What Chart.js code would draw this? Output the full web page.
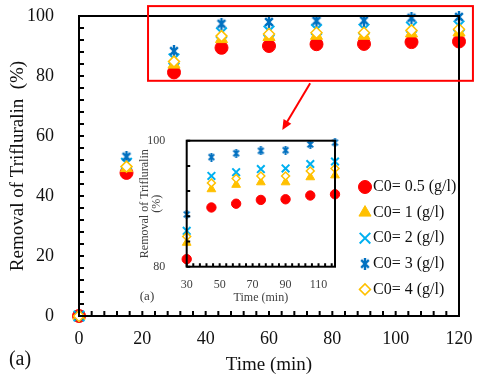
<!DOCTYPE html>
<html>
<head>
<meta charset="utf-8">
<script src="https://cdn.jsdelivr.net/npm/chart.js@4/dist/chart.umd.min.js"></script>
<style>
  body { margin: 0; background: #fff; }
  #wrap { position: relative; width: 480px; height: 380px; }
  #main { position: absolute; left: 0; top: 0; }
  #inset { position: absolute; left: 120px; top: 128px; }
</style>
</head>
<body>
<div id="wrap">
  <canvas id="main" width="480" height="380"></canvas>
  <canvas id="inset" width="225" height="180"></canvas>
</div>
<script>
const times = [0, 15, 30, 45, 60, 75, 90, 105, 120];
const c05 = [0, 47.7, 81.2, 89.4, 90.0, 90.6, 90.7, 91.3, 91.5];
const c1 = [0, 49.3, 83.8, 92.3, 93.0, 93.4, 93.4, 94.2, 94.5];
const c2 = [0, 50.9, 85.7, 94.4, 95.0, 95.5, 95.6, 96.3, 96.7];
const c3 = [0, 53.1, 88.3, 97.4, 98.0, 98.4, 98.5, 99.4, 99.7];
const c4 = [0, 49.8, 84.8, 93.3, 94.0, 94.4, 94.4, 95.2, 95.6];
const seriesLabels = ['C0= 0.5 (g/l)', 'C0= 1 (g/l)', 'C0= 2 (g/l)', 'C0= 3 (g/l)', 'C0= 4 (g/l)'];

// highlight box and arrow on the main chart, in data units
const boxX = [21.8, 124.4];
const boxY = [78.4, 103.3];
const arrowFrom = [73, 77.6];
const arrowTo = [64.2, 62];

const serif = 'Liberation Serif';

function starMarker(size, color) {
  const c = document.createElement('canvas');
  c.width = c.height = size;
  const g = c.getContext('2d');
  g.strokeStyle = color;
  g.lineWidth = Math.max(2, size / 5);
  const m = size * 0.18, s = size - m;
  g.beginPath();
  g.moveTo(m, m); g.lineTo(s, s);
  g.moveTo(s, m); g.lineTo(m, s);
  g.moveTo(size / 2, 0); g.lineTo(size / 2, size);
  g.stroke();
  return c;
}

function pts(vals, from) {
  return times.slice(from).map((t, i) => ({ x: t, y: vals.slice(from)[i] }));
}

function makeSets(big, from) {
  const k = big ? 1 : 0.72;
  return [
    { label: seriesLabels[0], data: pts(c05, from), pointStyle: 'circle', pointRadius: 6.5 * k,
      backgroundColor: '#FF0000', borderColor: '#FF0000', borderWidth: 1, order: 5 },
    { label: seriesLabels[1], data: pts(c1, from), pointStyle: 'triangle', pointRadius: 7 * k,
      backgroundColor: '#FFC000', borderColor: '#FFC000', borderWidth: 1, order: 4 },
    { label: seriesLabels[2], data: pts(c2, from), pointStyle: 'crossRot', pointRadius: 7.5 * k,
      backgroundColor: '#00B0F0', borderColor: '#00B0F0', borderWidth: 2, order: 3 },
    { label: seriesLabels[3], data: pts(c3, from), pointStyle: starMarker(big ? 12 : 9, '#0070C0'), pointRadius: 6 * k,
      backgroundColor: '#0070C0', borderColor: '#0070C0', borderWidth: 2, order: 2 },
    { label: seriesLabels[4], data: pts(c4, from), pointStyle: 'rectRot', pointRadius: 5.5 * k,
      backgroundColor: '#FFFFFF', borderColor: '#FFC000', borderWidth: 1.5, order: 1 }
  ].map(d => Object.assign(d, { showLine: false, clip: false, pointHoverRadius: d.pointRadius }));
}

function stepTicks(min, max, step) {
  const out = [];
  for (let v = min; v <= max + 1e-9; v += step) out.push({ value: v });
  return out;
}

// frame around the plot and small ticks pointing inward
const framePlugin = {
  id: 'frame',
  afterDraw(chart, args, opts) {
    const { ctx, chartArea: a, scales: { x, y } } = chart;
    ctx.save();
    ctx.strokeStyle = '#000';
    ctx.lineWidth = opts.width;
    ctx.beginPath();
    x.ticks.forEach(t => {
      const px = x.getPixelForValue(t.value);
      ctx.moveTo(px, a.bottom); ctx.lineTo(px, a.bottom - opts.tick);
    });
    y.ticks.forEach(t => {
      const py = y.getPixelForValue(t.value);
      ctx.moveTo(a.left, py); ctx.lineTo(a.left + opts.tick, py);
    });
    ctx.stroke();
    ctx.strokeRect(a.left, a.top, a.right - a.left, a.bottom - a.top);
    if (opts.tag) {
      ctx.fillStyle = opts.tag.color;
      ctx.font = opts.tag.size + 'px "' + serif + '"';
      ctx.textBaseline = 'middle';
      ctx.textAlign = 'center';
      ctx.fillText('(a)', opts.tag.x, opts.tag.y);
    }
    ctx.restore();
  }
};

const extrasPlugin = {
  id: 'extras',
  afterDraw(chart) {
    const { ctx, chartArea: a, scales: { x, y } } = chart;
    ctx.save();
    // red highlight box
    ctx.strokeStyle = '#FF0000';
    ctx.lineWidth = 2;
    const bx = x.getPixelForValue(boxX[0]), by = y.getPixelForValue(boxY[1]);
    ctx.strokeRect(bx, by, x.getPixelForValue(boxX[1]) - bx, y.getPixelForValue(boxY[0]) - by);
    // arrow
    const x1 = x.getPixelForValue(arrowFrom[0]), y1 = y.getPixelForValue(arrowFrom[1]);
    const x2 = x.getPixelForValue(arrowTo[0]), y2 = y.getPixelForValue(arrowTo[1]);
    const ang = Math.atan2(y2 - y1, x2 - x1);
    ctx.beginPath();
    ctx.moveTo(x1, y1);
    ctx.lineTo(x2 - 6 * Math.cos(ang), y2 - 6 * Math.sin(ang));
    ctx.stroke();
    ctx.fillStyle = '#FF0000';
    ctx.beginPath();
    ctx.moveTo(x2, y2);
    ctx.lineTo(x2 - 10 * Math.cos(ang) + 4.5 * Math.sin(ang), y2 - 10 * Math.sin(ang) - 4.5 * Math.cos(ang));
    ctx.lineTo(x2 - 10 * Math.cos(ang) - 4.5 * Math.sin(ang), y2 - 10 * Math.sin(ang) + 4.5 * Math.cos(ang));
    ctx.closePath();
    ctx.fill();
    // legend
    ctx.font = '16px "' + serif + '"';
    ctx.textBaseline = 'middle';
    ctx.textAlign = 'left';
    chart.data.datasets.forEach((ds, i) => {
      const lx = a.right - 94, ly = a.top + 171 + i * 25.6;
      ctx.fillStyle = ds.backgroundColor;
      ctx.strokeStyle = ds.borderColor;
      ctx.lineWidth = ds.borderWidth;
      Chart.helpers.drawPoint(ctx, { pointStyle: ds.pointStyle, radius: ds.pointRadius, borderWidth: ds.borderWidth, rotation: 0 }, lx, ly);
      ctx.fillStyle = '#111';
      ctx.fillText(ds.label, lx + 8, ly);
    });
    ctx.restore();
  }
};

const mainChart = new Chart(document.getElementById('main'), {
  type: 'scatter',
  data: { datasets: makeSets(true, 0) },
  plugins: [framePlugin, extrasPlugin],
  options: {
    responsive: false,
    devicePixelRatio: 1,
    animation: false,
    layout: { autoPadding: false, padding: { left: 0, right: 21, top: 16, bottom: 0 } },
    plugins: {
      legend: { display: false },
      tooltip: { enabled: false },
      frame: { width: 2, tick: 5, tag: { x: 20, y: 360, size: 20, color: '#111' } }
    },
    scales: {
      x: {
        type: 'linear', min: 0, max: 120,
        afterBuildTicks: s => { s.ticks = stepTicks(0, 120, 4); },
        afterFit: s => { s.height = 64; },
        grid: { display: false }, border: { display: false },
        ticks: { autoSkip: false, maxRotation: 0, padding: 4, color: '#111',
          font: { family: serif, size: 18 }, callback: v => (v % 20 === 0 ? v : '') },
        title: { display: true, text: 'Time (min)', color: '#111',
          font: { family: serif, size: 19 }, padding: { top: 0, bottom: 4 } }
      },
      y: {
        type: 'linear', min: 0, max: 100,
        afterBuildTicks: s => { s.ticks = stepTicks(0, 100, 4); },
        afterFit: s => { s.width = 79; s.paddingTop = 0; s.paddingBottom = 0; },
        grid: { display: false }, border: { display: false },
        ticks: { autoSkip: false, padding: 17, color: '#111',
          font: { family: serif, size: 18 }, callback: v => (v % 20 === 0 ? v : '') },
        title: { display: true, text: 'Removal of Trifluralin  (%)', color: '#111',
          font: { family: serif, size: 19 }, padding: { top: 7, bottom: 0 } }
      }
    }
  }
});

const insetChart = new Chart(document.getElementById('inset'), {
  type: 'scatter',
  data: { datasets: makeSets(false, 2) },
  plugins: [framePlugin],
  options: {
    responsive: false,
    devicePixelRatio: 1,
    animation: false,
    layout: { autoPadding: false, padding: { left: 0, right: 10, top: 12.7, bottom: 0 } },
    plugins: {
      legend: { display: false },
      tooltip: { enabled: false },
      frame: { width: 2, tick: 3.5, tag: { x: 27, y: 169, size: 13, color: '#404040' } }
    },
    scales: {
      x: {
        type: 'linear', min: 30, max: 120,
        afterBuildTicks: s => { s.ticks = stepTicks(30, 120, 4); },
        afterFit: s => { s.height = 41.3; },
        grid: { display: false }, border: { display: false },
        ticks: { autoSkip: false, maxRotation: 0, padding: 3, color: '#404040',
          font: { family: serif, size: 12 }, callback: v => ((v - 30) % 20 === 0 ? v : '') },
        title: { display: true, text: 'Time (min)', color: '#404040',
          font: { family: serif, size: 12 }, padding: { top: 0, bottom: 3 } }
      },
      y: {
        type: 'linear', min: 80, max: 100,
        afterBuildTicks: s => { s.ticks = stepTicks(80, 100, 4); },
        afterFit: s => { s.width = 66.7; s.paddingTop = 0; s.paddingBottom = 0; },
        grid: { display: false }, border: { display: false },
        ticks: { autoSkip: false, padding: 13.5, color: '#404040',
          font: { family: serif, size: 12 }, callback: v => (v % 20 === 0 ? v : '') },
        title: { display: true, text: ['Removal of Trifluralin', '(%)'], color: '#404040',
          font: { family: serif, size: 12, lineHeight: 1 }, padding: { top: 19, bottom: 0 } }
      }
    }
  }
});
</script>
</body>
</html>
